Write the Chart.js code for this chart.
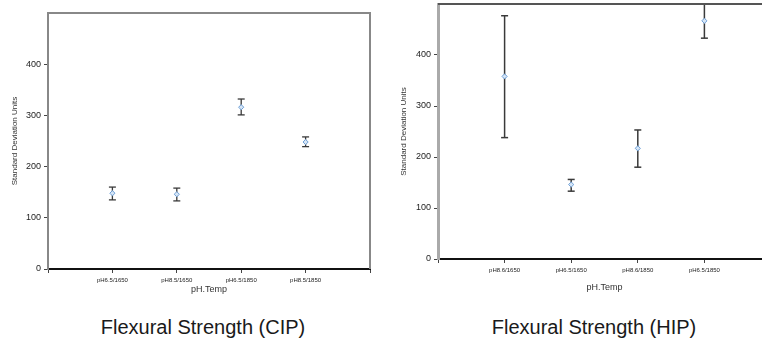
<!DOCTYPE html>
<html>
<head>
<meta charset="utf-8">
<script src="https://cdn.jsdelivr.net/npm/chart.js@4/dist/chart.umd.min.js"></script>
<style>
  html, body { margin: 0; padding: 0; background: #fff; }
  body { width: 762px; height: 362px; position: relative; overflow: hidden; font-family: "Liberation Sans", Arial, sans-serif; }
  .box { position: absolute; }
  .title { position: absolute; top: 316px; font-size: 20px; color: #1a1a1a; text-align: center; width: 300px; }
</style>
</head>
<body>
<div class="box" style="left:0px;top:0px;width:380px;height:300px;"><canvas id="cip"></canvas></div>
<div class="box" style="left:380px;top:-10px;width:400px;height:310px;"><canvas id="hip"></canvas></div>
<div class="title" style="left:53px;">Flexural Strength (CIP)</div>
<div class="title" style="left:444px;">Flexural Strength (HIP)</div>
<script>
// CIP panel
const cipLabels = ["pH6.5/1650", "pH8.5/1650", "pH6.5/1850", "pH8.5/1850"];
const cipMean = [148, 146, 316, 248];
const cipLow = [135, 133, 301, 239];
const cipHigh = [160, 158, 332, 258];

// HIP panel
const hipLabels = ["pH8.6/1650", "pH6.5/1650", "pH8.6/1850", "pH6.5/1850"];
const hipMean = [358, 146, 217, 467];
const hipLow = [238, 133, 180, 433];
const hipHigh = [477, 156, 253, 501];

const yTicks = [0, 100, 200, 300, 400];

// draws top/right edges of the frame
const framePlugin = {
    id: 'frame',
    afterDraw: function (chart, args, opts) {
        const a = chart.chartArea;
        const ctx = chart.ctx;
        ctx.save();
        ctx.strokeStyle = opts.color;
        ctx.lineWidth = opts.width;
        ctx.beginPath();
        ctx.moveTo(a.left, a.top);
        ctx.lineTo(a.right, a.top);
        ctx.lineTo(a.right, a.bottom);
        ctx.stroke();
        ctx.restore();
    }
};

function makeGraph(id, labels, mean, low, high, cfg) {
    var points = [];
    var bars = [];
    for (i = 0; i < labels.length; i++) {
        points.push({ x: i + 1, y: mean[i] });
        bars.push({ x: i + 1, y: low[i] });
        bars.push({ x: i + 1, y: high[i] });
        bars.push({ x: i + 1, y: null });
    }
    let ctx = document.getElementById(id).getContext('2d');
    return new Chart(ctx, {
        type: 'scatter',
        data: {
            datasets: [{
                data: points,
                order: 0,
                pointStyle: 'rectRot',
                pointRadius: 2.6,
                borderWidth: 1,
                borderColor: '#6e9fd6',
                backgroundColor: '#d6e6f7'
            }, {
                data: bars,
                order: 1,
                showLine: true,
                spanGaps: false,
                borderColor: '#3a3a3a',
                borderWidth: cfg.barWidth,
                pointStyle: 'line',
                pointRadius: 3.5,
                pointBorderWidth: cfg.barWidth,
                pointBorderColor: '#3a3a3a'
            }]
        },
        options: {
            responsive: true,
            maintainAspectRatio: false,
            animation: false,
            layout: { padding: cfg.padding },
            plugins: {
                legend: { display: false },
                tooltip: { enabled: false },
                frame: { color: cfg.frameColor, width: cfg.frameWidth }
            },
            scales: {
                x: {
                    type: 'linear',
                    min: 0,
                    max: labels.length + 1,
                    afterFit: function (s) { s.height = cfg.xHeight; },
                    afterBuildTicks: function (s) {
                        s.ticks = [];
                        for (i = 0; i <= labels.length + 1; i++) s.ticks.push({ value: i });
                    },
                    ticks: {
                        callback: function (v) { return labels[v - 1] || ''; },
                        font: { family: 'Liberation Sans', size: 6 },
                        color: '#222',
                        padding: 4,
                        maxRotation: 0,
                        autoSkip: false
                    },
                    grid: { drawOnChartArea: false, tickLength: 4, color: '#444' },
                    border: { color: '#111', width: 2 },
                    title: {
                        display: true,
                        text: 'pH.Temp',
                        font: { family: 'Liberation Sans', size: 9 },
                        color: '#333',
                        padding: { top: 0, bottom: 0 }
                    }
                },
                y: {
                    min: 0,
                    max: 500,
                    afterFit: function (s) { s.width = cfg.yWidth; },
                    afterBuildTicks: function (s) {
                        s.ticks = yTicks.map(function (v) { return { value: v }; });
                    },
                    ticks: {
                        font: { family: 'Liberation Sans', size: 9 },
                        color: '#222',
                        padding: 3
                    },
                    grid: { drawOnChartArea: false, tickLength: 4, color: '#444' },
                    border: { color: cfg.leftColor, width: cfg.leftWidth },
                    title: {
                        display: true,
                        text: 'Standard Deviation Units',
                        font: { family: 'Liberation Sans', size: 8 },
                        color: '#333',
                        padding: { top: 4, bottom: 2 }
                    }
                }
            }
        },
        plugins: [framePlugin]
    });
}

makeGraph('cip', cipLabels, cipMean, cipLow, cipHigh, {
    padding: { top: 13, right: 10, left: 6, bottom: 5 },
    xHeight: 26,
    yWidth: 42,
    barWidth: 1.3,
    frameColor: '#888',
    frameWidth: 2,
    leftColor: '#888',
    leftWidth: 2
});

makeGraph('hip', hipLabels, hipMean, hipLow, hipHigh, {
    padding: { top: 14, right: 9, left: 15, bottom: 7 },
    xHeight: 34,
    yWidth: 43,
    barWidth: 1.5,
    frameColor: '#555',
    frameWidth: 2,
    leftColor: '#aaa',
    leftWidth: 3
});
</script>
</body>
</html>
